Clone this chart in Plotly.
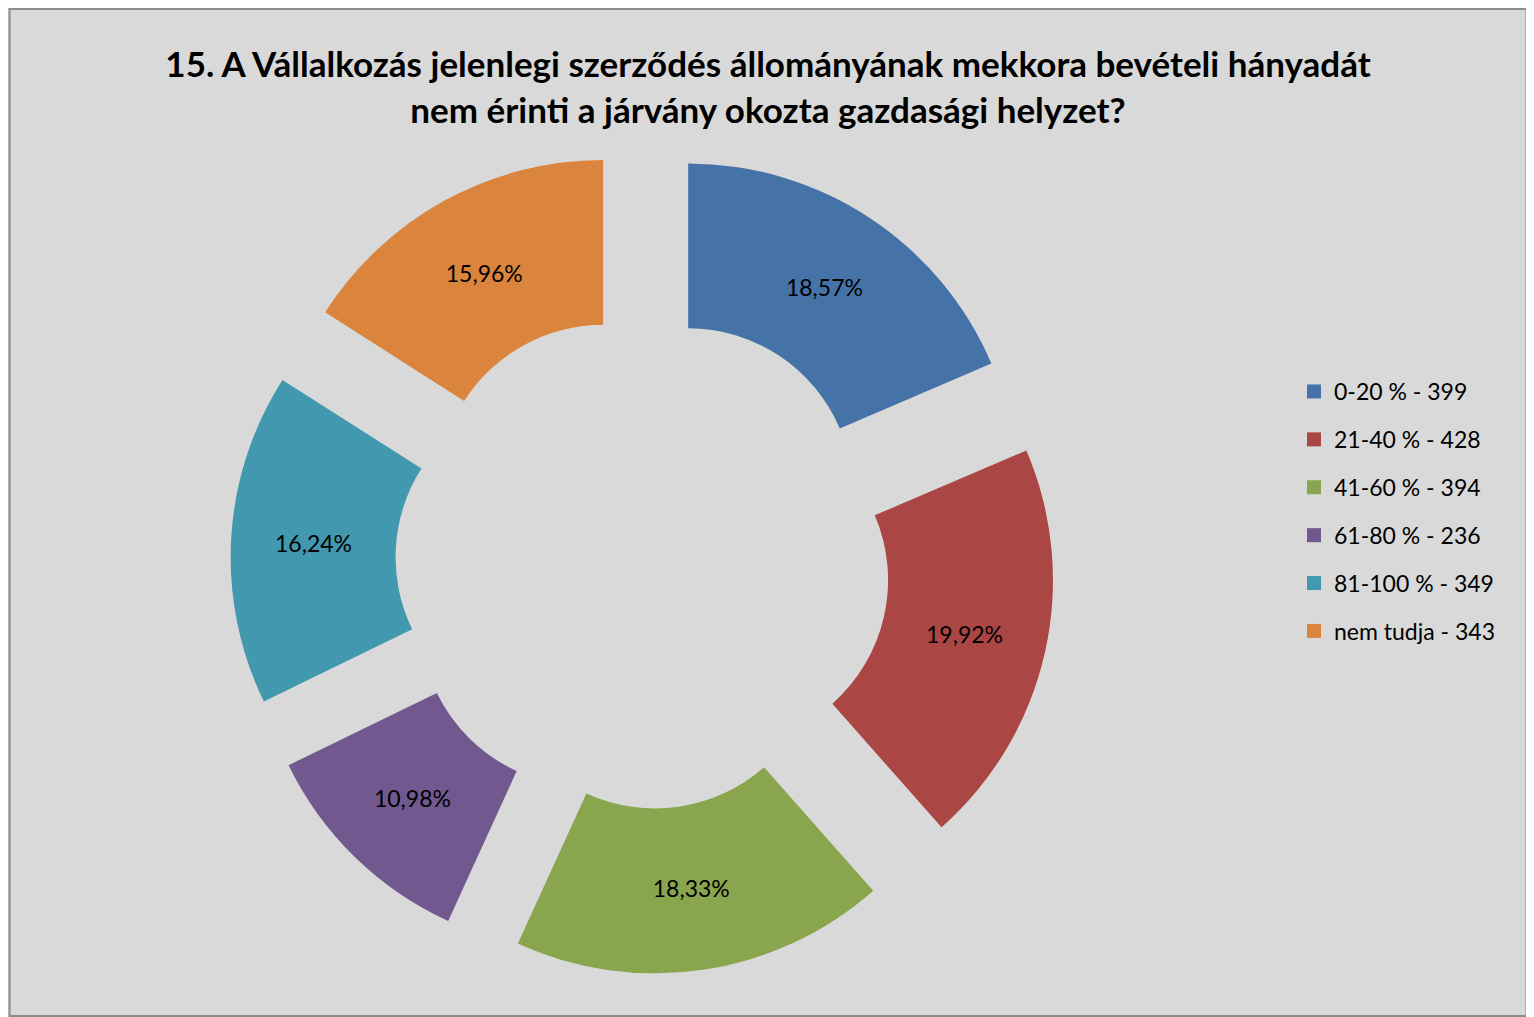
import plotly.graph_objects as go

categories = ["0-20 %", "21-40 %", "41-60 %", "61-80 %", "81-100 %", "nem tudja"]
counts = [399, 428, 394, 236, 349, 343]
colors = ["#4572A7", "#AA4643", "#89A54E", "#71588F", "#4198AF", "#DB843D"]
title_text = ("15. A Vállalkozás jelenlegi szerződés állományának mekkora bevételi hányadát"
              "<br>nem érinti a járvány okozta gazdasági helyzet?")

total = sum(counts)
pct_labels = [f"{v / total * 100:.2f}".replace(".", ",") + "%" for v in counts]
legend_names = [f"{c} - {v}" for c, v in zip(categories, counts)]

W, H = 1520, 1009
FONT = "Lato, Carlito, Calibri, sans-serif"

fig = go.Figure()
fig.add_trace(go.Pie(
    labels=categories,
    values=counts,
    text=pct_labels,
    textinfo="text",
    textposition="inside",
    insidetextorientation="horizontal",
    textfont=dict(family=FONT, size=23, color="black"),
    marker=dict(colors=colors, line=dict(width=0)),
    hole=0.5,
    pull=[0.25] * len(counts),
    sort=False,
    direction="clockwise",
    rotation=0,
    showlegend=False,
    domain=dict(x=[0.1464, 0.6888], y=[0.0421, 0.8597]),
    hoverinfo="label+value+percent",
))

for name, col in zip(legend_names, colors):
    fig.add_trace(go.Scatter(
        x=[None], y=[None], mode="markers", name=name, legendgroup=name,
        marker=dict(symbol="square", size=14, color=col, line=dict(width=0)),
        showlegend=True,
    ))

fig.update_layout(
    width=W, height=H,
    margin=dict(l=0, r=0, t=0, b=0),
    paper_bgcolor="#D9D9D9",
    plot_bgcolor="rgba(0,0,0,0)",
    xaxis=dict(visible=False),
    yaxis=dict(visible=False),
    title=dict(
        text=title_text,
        font=dict(family=FONT, size=35, color="black", weight="bold"),
        x=0.5, xanchor="center",
        yref="container", y=1 - 69 / H, yanchor="top",
    ),
    legend=dict(
        x=(1286) / W, xanchor="left",
        y=1 - 362 / H, yanchor="top",
        bgcolor="rgba(0,0,0,0)",
        font=dict(family=FONT, size=23, color="black"),
        tracegroupgap=15,
        traceorder="grouped",
        itemclick=False,
    ),
    shapes=[dict(type="rect", xref="paper", yref="paper", x0=0.001, x1=0.999,
                 y0=0.001, y1=0.999, line=dict(color="#8C8C8C", width=2),
                 fillcolor="rgba(0,0,0,0)", layer="above")],
    font=dict(family=FONT),
)

fig.write_html("out.html")
